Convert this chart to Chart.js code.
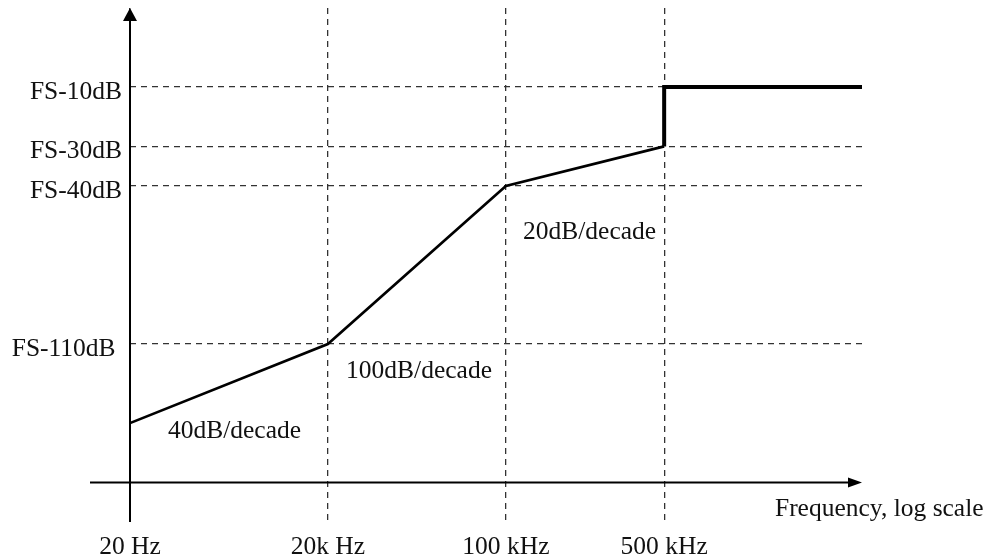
<!DOCTYPE html>
<html>
<head>
<meta charset="utf-8">
<script src="https://cdn.jsdelivr.net/npm/chart.js@4/dist/chart.umd.min.js"></script>
<style>
  html, body { margin: 0; padding: 0; background: #fff; }
  #wrap { width: 999px; height: 560px; position: relative; }
</style>
</head>
<body>
<div id="wrap"><canvas id="c"></canvas></div>
<script>
// Frequency breakpoints, placed along a schematic (not to scale) axis
const freqLabels = ['20 Hz', '20k Hz', '100 kHz', '500 kHz'];
const freqPos = [0, 10, 19, 27];
const freqEnd = 37;

// Level thresholds, also on a schematic axis
const levelLabels = ['FS-10dB', 'FS-30dB', 'FS-40dB', 'FS-110dB '];
const levelPos = [20, 17, 15, 7];

// Sloped part of the mask (20 Hz .. 500 kHz)
const slopeX = [0, 10, 19, 27];
const slopeY = [3, 7, 15, 17];

// Step up and flat part above 500 kHz
const stepX = [27, 27, 37];
const stepY = [17, 20, 20];

// Slope annotations and where they sit
const slopeText = ['40dB/decade', '100dB/decade', '20dB/decade'];
const slopeTextX = [5.28, 14.61, 23.23];
const slopeTextY = [2.58, 5.62, 12.66];

const axisTitle = 'Frequency, log scale';
const axisTitleX = 32.6;
const axisTitleY = -1.35;

const FONT = 'Liberation Serif, Times New Roman, serif';
const FONT_SIZE = 25.5;
const INK = '#111';

const toPoints = (xs, ys) => xs.map((x, i) => ({ x: x, y: ys[i] }));

const axesPlugin = {
  id: 'axesAndNotes',
  beforeDatasetsDraw(chart) {
    const ctx = chart.ctx;
    const xs = chart.scales.x, ys = chart.scales.y;
    const x0 = xs.getPixelForValue(0);
    const y0 = ys.getPixelForValue(0);
    const area = chart.chartArea;
    ctx.save();
    ctx.strokeStyle = '#000';
    ctx.fillStyle = '#000';
    ctx.lineWidth = 2;
    // horizontal axis, starting a little left of the vertical one
    const xRight = xs.getPixelForValue(freqEnd);
    ctx.beginPath();
    ctx.moveTo(x0 - 40, y0);
    ctx.lineTo(xRight - 10, y0);
    ctx.stroke();
    ctx.beginPath();
    ctx.moveTo(xRight, y0);
    ctx.lineTo(xRight - 14, y0 - 5);
    ctx.lineTo(xRight - 14, y0 + 5);
    ctx.closePath();
    ctx.fill();
    // vertical axis
    ctx.beginPath();
    ctx.moveTo(x0, area.bottom);
    ctx.lineTo(x0, area.top + 10);
    ctx.stroke();
    ctx.beginPath();
    ctx.moveTo(x0, area.top);
    ctx.lineTo(x0 - 7, area.top + 13);
    ctx.lineTo(x0 + 7, area.top + 13);
    ctx.closePath();
    ctx.fill();
    ctx.restore();
  },
  afterDraw(chart) {
    const ctx = chart.ctx;
    const xs = chart.scales.x, ys = chart.scales.y;
    ctx.save();
    ctx.fillStyle = INK;
    ctx.font = FONT_SIZE + 'px ' + FONT;
    ctx.textBaseline = 'middle';
    ctx.textAlign = 'center';
    slopeText.forEach((t, i) => {
      ctx.fillText(t, xs.getPixelForValue(slopeTextX[i]), ys.getPixelForValue(slopeTextY[i]));
    });
    ctx.textAlign = 'left';
    ctx.fillText(axisTitle, xs.getPixelForValue(axisTitleX), ys.getPixelForValue(axisTitleY));
    ctx.restore();
  }
};

new Chart(document.getElementById('c'), {
  type: 'line',
  data: {
    datasets: [
      {
        data: toPoints(slopeX, slopeY),
        borderColor: '#000',
        borderWidth: 2.6,
        pointRadius: 0,
        tension: 0,
        borderJoinStyle: 'miter'
      },
      {
        data: toPoints(stepX, stepY),
        borderColor: '#000',
        borderWidth: 4,
        pointRadius: 0,
        tension: 0,
        borderJoinStyle: 'miter'
      }
    ]
  },
  options: {
    responsive: true,
    maintainAspectRatio: false,
    animation: false,
    events: [],
    layout: { padding: { top: 8, right: 137, left: 0, bottom: 0 } },
    plugins: { legend: { display: false }, tooltip: { enabled: false } },
    scales: {
      x: {
        type: 'linear',
        min: 0,
        max: freqEnd,
        afterBuildTicks: (s) => { s.ticks = freqPos.map(v => ({ value: v })); },
        afterFit: (s) => { s.height = 38; s.paddingLeft = 0; s.paddingRight = 0; },
        ticks: {
          autoSkip: false,
          maxRotation: 0,
          padding: 10,
          color: INK,
          font: { family: FONT, size: FONT_SIZE },
          callback: (v, i) => freqLabels[i]
        },
        grid: { color: '#333', lineWidth: 1.3, drawTicks: false },
        border: { display: false, dash: [6, 5] }
      },
      y: {
        type: 'linear',
        min: -2,
        max: 24,
        afterBuildTicks: (s) => { s.ticks = levelPos.map(v => ({ value: v })); },
        afterFit: (s) => { s.width = 130; s.paddingTop = 0; s.paddingBottom = 0; },
        ticks: {
          autoSkip: false,
          padding: 8,
          labelOffset: 5,
          color: INK,
          font: { family: FONT, size: FONT_SIZE },
          callback: (v, i) => levelLabels[i]
        },
        grid: { color: '#333', lineWidth: 1.3, drawTicks: false },
        border: { display: false, dash: [6, 5] }
      }
    }
  },
  plugins: [axesPlugin]
});
</script>
</body>
</html>
